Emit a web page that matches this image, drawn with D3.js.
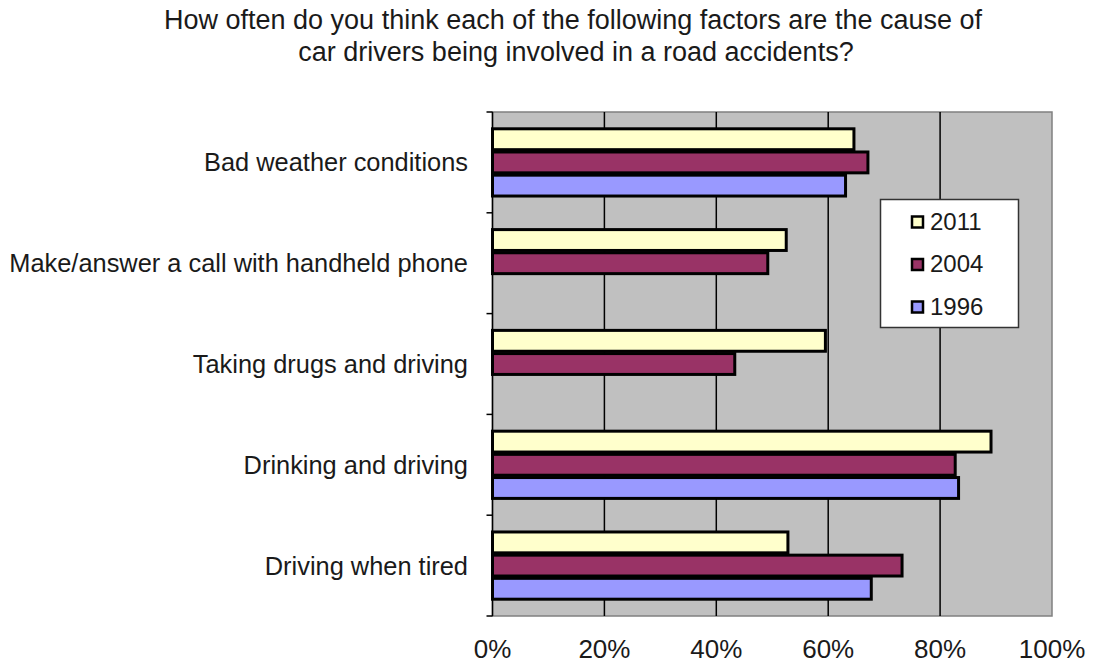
<!DOCTYPE html>
<html><head><meta charset="utf-8">
<script src="https://cdn.jsdelivr.net/npm/d3@7"></script>
<style>body{margin:0;background:#fff;} text{font-family:"Liberation Sans",Arial,sans-serif;fill:#1a1a1a;}</style>
</head><body>
<svg id="c" width="1093" height="663"></svg>
<script>
const categories = ["Bad weather conditions","Make/answer a call with handheld phone","Taking drugs and driving","Drinking and driving","Driving when tired"];
const seriesNames = ["2011","2004","1996"];
const values2011 = [64.6, 52.5, 59.5, 89.1, 52.8];
const values2004 = [67.1, 49.2, 43.3, 82.7, 73.2];
const values1996 = [63.1, null, null, 83.3, 67.7];
const colors = ["#FFFFCC","#993366","#9999FF"];
const xTicks = [0,20,40,60,80,100];
const titleLines = ["How often do you think each of the following factors are the cause of","car drivers being involved in a road accidents?"];

const seriesValues = [values2011, values2004, values1996];
const svg = d3.select("#c");
const L=492.5, R=1052, T=112, B=616;
const x = d3.scaleLinear().domain([0,100]).range([L,R]);
const y = d3.scaleBand().domain(categories).range([T,B]).paddingInner(0.333).paddingOuter(0.1667);
const ys = d3.scaleBand().domain(seriesNames).range([0,y.bandwidth()]).paddingInner(0.1);

svg.selectAll("text.title").data(titleLines).join("text")
  .attr("x",(d,i)=>i===0?573:576).attr("y",(d,i)=>29+i*32).attr("text-anchor","middle").attr("font-size",27).text(d=>d);

svg.append("rect").attr("x",L).attr("y",T).attr("width",R-L).attr("height",B-T).attr("fill","#C0C0C0").attr("stroke","#808080").attr("stroke-width",1.5);

svg.selectAll("line.grid").data(xTicks.filter(t=>t>0&&t<100)).join("line")
  .attr("x1",d=>x(d)).attr("x2",d=>x(d)).attr("y1",T).attr("y2",B).attr("stroke","#000").attr("stroke-width",1.5);

// left axis
const yEdges = d3.range(categories.length+1).map(i=>T+i*(B-T)/categories.length);
svg.append("line").attr("x1",L).attr("x2",L).attr("y1",T).attr("y2",B).attr("stroke","#000").attr("stroke-width",1.5);
svg.selectAll("line.ytick").data(yEdges).join("line").attr("x1",L-6).attr("x2",L).attr("y1",d=>d).attr("y2",d=>d).attr("stroke","#000").attr("stroke-width",1.5);

const g = svg.append("g");
seriesNames.forEach((s,si)=>{
  g.selectAll("rect.s"+si).data(categories.map((c,ci)=>({c,v:seriesValues[si][ci]})).filter(d=>d.v!=null)).join("rect")
   .attr("x",L).attr("y",d=>y(d.c)+ys(s)).attr("width",d=>x(d.v)-L).attr("height",ys.bandwidth())
   .attr("fill",colors[si]).attr("stroke","#000").attr("stroke-width",3);
});

svg.selectAll("text.cat").data(categories).join("text")
  .attr("x",468).attr("y",d=>y(d)+y.bandwidth()/2+9).attr("text-anchor","end").attr("font-size",25.4).text(d=>d);

svg.selectAll("text.xt").data(xTicks).join("text")
  .attr("x",d=>x(d)).attr("y",658).attr("text-anchor","middle").attr("font-size",26).text(d=>d+"%");

// legend
const lg = svg.append("g");
lg.append("rect").attr("x",880.5).attr("y",199.5).attr("width",138).attr("height",128).attr("fill","#fff").attr("stroke","#333").attr("stroke-width",1.5);
seriesNames.forEach((s,i)=>{
  const cy = 221.5 + i*42.5;
  lg.append("rect").attr("x",912).attr("y",cy-5).attr("width",11).attr("height",11).attr("fill",colors[i]).attr("stroke","#000").attr("stroke-width",2.5);
  lg.append("text").attr("x",930).attr("y",cy+8).attr("font-size",24).text(s);
});
</script>
</body></html>
